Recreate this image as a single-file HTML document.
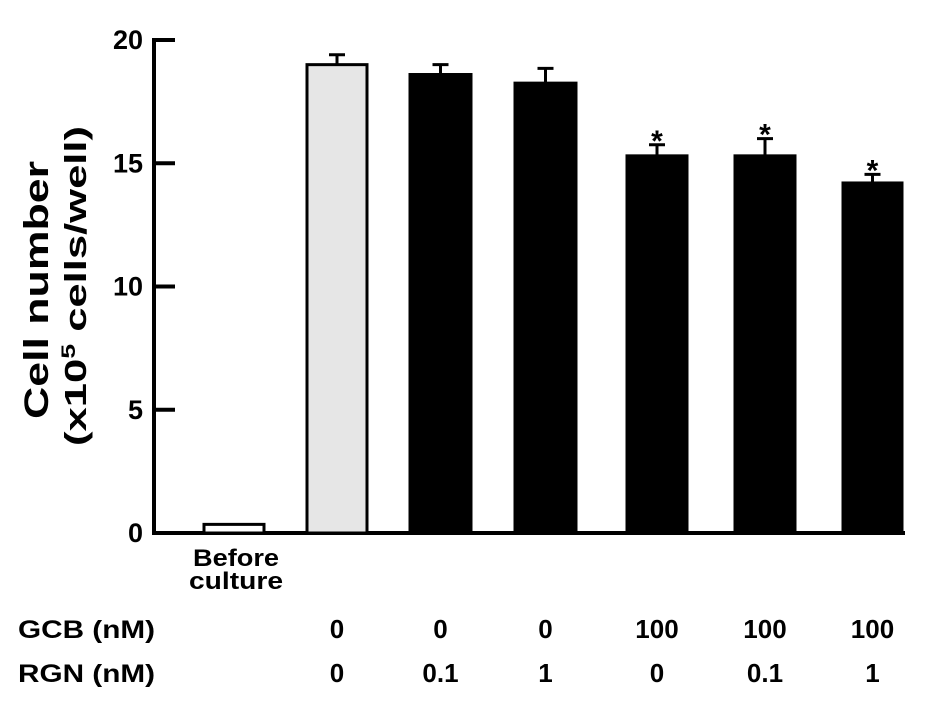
<!DOCTYPE html>
<html><head><meta charset="utf-8"><style>
body{margin:0;background:#fff}
svg{display:block;font-family:"Liberation Sans",Arial,sans-serif;font-weight:bold}
</style></head><body>
<svg id="chart" width="945" height="724" viewBox="0 0 945 724">
<g id="axes"></g><g id="bars"></g><g id="labels"></g>
</svg>
<script>
const categories=["Before culture","0/0","0/0.1","0/1","100/0","100/0.1","100/1"];
const values=[0.35,19.0,18.6,18.25,15.3,15.3,14.2];
const errors=[0,0.4,0.4,0.6,0.45,0.7,0.35];
const significant=[false,false,false,false,true,true,true];
const fills=["#fff","#e6e6e6","#000","#000","#000","#000","#000"];
const yTicks=[0,5,10,15,20];
const gcb=["","0","0","0","100","100","100"];
const rgn=["","0","0.1","1","0","0.1","1"];
const barLeft=[204,307,410,515,627,735,843];
const barW=[60,60,61,61,60,60,59];
const NS="http://www.w3.org/2000/svg";
const y0=533,y20=40;
const y=v=>y0-(v/20)*(y0-y20);
const axX=154;
function mk(tag,attrs,parent){const e=document.createElementNS(NS,tag);for(const k in attrs)e.setAttribute(k,attrs[k]);parent.appendChild(e);return e;}
const ax=document.getElementById('axes'),bg=document.getElementById('bars'),lg=document.getElementById('labels');
let l=mk('line',{x1:axX,y1:y(20)-2,x2:axX,y2:y0+2,stroke:'#000','stroke-width':4},ax);


l=mk('line',{x1:axX-2,y1:y0,x2:905,y2:y0,stroke:'#000','stroke-width':4},ax);


yTicks.forEach(t=>{
 const tk=mk('line',{x1:axX,y1:y(t),x2:axX+21,y2:y(t),stroke:'#000','stroke-width':4},ax);
 
 
 const tx=mk('text',{x:axX-11,y:y(t)+9,'text-anchor':'end','font-size':27},ax);tx.textContent=t;
 
 
});
categories.forEach((c,i)=>{
 const x=barLeft[i],w=barW[i],top=y(values[i]);
 const r=mk('rect',{x:x,y:top,width:w,height:y0-top,fill:fills[i],stroke:'#000','stroke-width':3},bg);
 
 
 const cx=x+w/2;
 if(errors[i]>0){
  const et=y(values[i]+errors[i]);
  const e=mk('path',{d:`M${cx} ${top} V${et} M${cx-8} ${et} H${cx+8}`,stroke:'#000','stroke-width':3,fill:'none'},bg);
  
  
 }
 if(significant[i]){
  const s=mk('text',{x:cx,y:y(values[i]+errors[i])+6,'text-anchor':'middle','font-size':30},bg);s.textContent='*';
  
  
 }
 if(gcb[i]!==''){
  const g=mk('text',{x:cx,y:638,'text-anchor':'middle','font-size':26},lg);g.textContent=gcb[i];
  
  
  const rr=mk('text',{x:cx,y:682,'text-anchor':'middle','font-size':26},lg);rr.textContent=rgn[i];
  
  
 }
});
</script>
<svg style="position:absolute;left:0;top:0" width="945" height="724">
<g font-family="Liberation Sans,Arial,sans-serif" font-weight="bold">
<text x="236" y="566" text-anchor="middle" font-size="24" textLength="86" lengthAdjust="spacingAndGlyphs">Before</text>
<text x="236" y="589" text-anchor="middle" font-size="24" textLength="94" lengthAdjust="spacingAndGlyphs">culture</text>
<text x="18" y="638" font-size="25" textLength="137" lengthAdjust="spacingAndGlyphs">GCB (nM)</text>
<text x="18" y="682" font-size="25" textLength="137" lengthAdjust="spacingAndGlyphs">RGN (nM)</text>
<text transform="translate(48,290) rotate(-90)" text-anchor="middle" font-size="34" textLength="258" lengthAdjust="spacingAndGlyphs">Cell number</text>
<text transform="translate(86,286) rotate(-90)" text-anchor="middle" font-size="31" textLength="320" lengthAdjust="spacingAndGlyphs">(x10<tspan font-size="19" dy="-11">5</tspan><tspan dy="11"> cells/well)</tspan></text>
</g></svg>
</body></html>
